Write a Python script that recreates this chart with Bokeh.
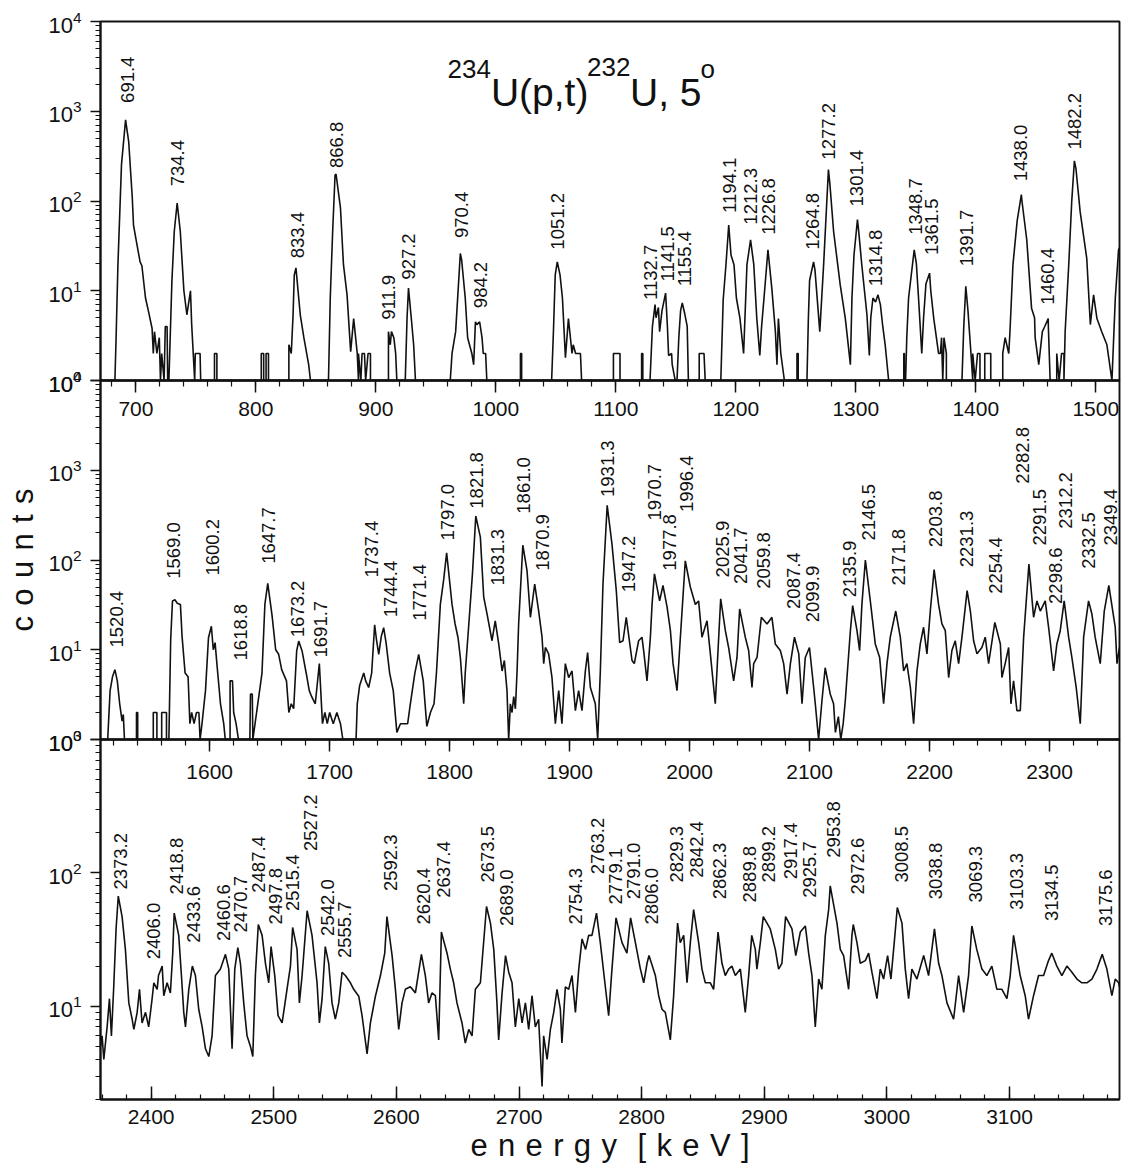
import numpy as np
from bokeh.plotting import figure
from bokeh.layouts import column
from bokeh.models import Range1d, FixedTicker, LogTickFormatter, Label, ColumnDataSource
from bokeh.core.properties import value
from bokeh.embed import file_html
from bokeh.resources import INLINE

FONT = "Liberation Sans"
INK = "#111111"

# ---------------------------------------------------------------------------
# Triton spectrum, read as (energy [keV], counts); empty channels sit at 1
# ---------------------------------------------------------------------------
p1_points = [
    (670.5, 1), (682.5, 1), (683.5, 3), (685, 19), (688, 256), (691.4, 800), (694, 460), (697, 108),
    (698, 54), (701, 32), (703.5, 21), (705, 19), (708, 8.3), (710.5, 5.9), (713.5, 3.8), (714.5, 2),
    (715.5, 3.5), (717.5, 2), (719.5, 3), (720.5, 1), (721.5, 2), (723.5, 1), (724.5, 4), (726, 4),
    (726.5, 1), (727.5, 1), (730, 12.7), (732, 46), (734.4, 95), (737, 46), (740, 10), (742.5, 5.4),
    (745.5, 10), (746.5, 4.2), (749, 1), (749.5, 2), (753.5, 2), (754, 1), (765.5, 1), (765.5, 2),
    (767.5, 2), (767.5, 1), (804.5, 1), (804.5, 2), (806.5, 2), (806.5, 1), (808.5, 1), (808.5, 2),
    (810.5, 2), (810.5, 1), (827.5, 1), (827.5, 2.5), (829.5, 2), (831, 5.4), (832, 15), (833.4, 18),
    (837, 5.4), (840, 3), (844, 1.5), (845.5, 1), (860.5, 1), (862, 8.3), (864, 46), (866, 195),
    (866.8, 200), (870.5, 84), (873, 19.5), (876, 9), (879, 2.1), (881.5, 4.9), (884.5, 2), (885.5, 1),
    (885.5, 2), (887.5, 1), (888.5, 2), (890.5, 2), (891.5, 1), (893.5, 2), (895.5, 2), (895.5, 1),
    (910.5, 1), (910.5, 3.5), (912, 2.5), (913, 3.5), (915, 3), (916.5, 2), (917.5, 1), (924.5, 1),
    (926, 5), (927.2, 10.7), (929.5, 5), (931.5, 2.5), (933, 1), (962, 1), (963.5, 2), (966.5, 3.5),
    (970.4, 26), (971.5, 22), (974.5, 8.3), (976.5, 3), (980, 2), (981.5, 1.5), (983, 4.5), (984.2, 4.2),
    (986.5, 4.5), (988.5, 3), (989.5, 2), (991.5, 2), (992.5, 1), (1020.5, 1), (1020.5, 2), (1021.5, 2),
    (1021.5, 1), (1046.5, 1), (1048, 3.5), (1049.5, 15), (1051.2, 21), (1053.5, 15), (1055.5, 8.3),
    (1058, 1.8), (1060.5, 4.9), (1063.5, 2), (1064.5, 2.5), (1066.5, 2), (1068.5, 2), (1070.5, 2),
    (1071.5, 1), (1098, 1), (1098, 2), (1103.5, 2), (1103.5, 1), (1121.5, 1), (1121.5, 2), (1122.5, 2),
    (1122.5, 1), (1128.5, 1), (1130.5, 4), (1132.7, 7), (1133.5, 5), (1135.5, 6.5), (1136.5, 3.5),
    (1138.5, 6), (1141.5, 9.4), (1143, 4), (1144, 1.9), (1146.5, 2), (1147, 1.5), (1149.5, 1), (1151, 1),
    (1152.5, 3), (1154, 6), (1155.4, 7.3), (1157.5, 5.5), (1159.5, 4), (1160.5, 1), (1169.5, 1),
    (1169.5, 2), (1173.5, 2), (1174.5, 1), (1187.5, 1), (1189.5, 8), (1191.8, 19.5), (1194.1, 54),
    (1196, 25), (1198.5, 19.5), (1200.5, 8.3), (1203.5, 4.9), (1206.5, 2), (1209.3, 19.5), (1212.3, 37),
    (1215, 19.5), (1217.5, 4.9), (1220, 1.9), (1221.5, 4), (1223.5, 8.3), (1226.8, 28.6), (1230, 10.7),
    (1233, 3.5), (1234.3, 1.5), (1235.5, 4.9), (1237.5, 2), (1240.5, 1), (1251, 1), (1251, 2), (1252, 2),
    (1252, 1), (1259.3, 1), (1260.5, 5), (1261.5, 13), (1264.8, 21), (1266, 17), (1270, 3.5),
    (1273.2, 19.5), (1277.2, 224), (1278.5, 150), (1281.5, 46), (1287, 11.7), (1291.3, 4.9),
    (1295.5, 1.5), (1296.8, 8.3), (1298.5, 25), (1301.4, 62), (1302.5, 45), (1305, 19.5), (1309.3, 5.4),
    (1311.3, 1.9), (1312.5, 5), (1314.3, 8.3), (1316.5, 7.5), (1318.5, 9), (1320.5, 7), (1322.5, 4),
    (1324.5, 2.5), (1327.4, 1), (1340, 1), (1340, 2), (1340.5, 2), (1340.5, 1), (1341.5, 1), (1342.5, 3),
    (1344, 8.3), (1348.7, 28.6), (1350.5, 20), (1352.3, 8.3), (1355, 2), (1356.5, 5), (1358.5, 12),
    (1361.5, 15.7), (1362.5, 10), (1365, 4.9), (1369, 2), (1370.5, 2), (1371.5, 3), (1372.5, 1),
    (1373.5, 3), (1375.5, 2), (1375.5, 1), (1388.5, 1), (1390, 4), (1391.7, 11.2), (1393.5, 6),
    (1396, 2), (1397.5, 1), (1397.5, 2), (1399.5, 1), (1401.5, 2), (1403.5, 2), (1403.5, 1), (1407.5, 1),
    (1407.5, 2), (1412.5, 2), (1412.5, 1), (1422.5, 1), (1422.5, 2), (1424.5, 3), (1427.5, 2),
    (1428.5, 3.5), (1431, 19.5), (1434.5, 60), (1438.0, 118), (1438.5, 100), (1442.5, 37), (1446.5, 6.4),
    (1449, 5), (1449.5, 3), (1452.5, 1.5), (1455.5, 3.5), (1457.5, 4), (1460.4, 4.9), (1460.5, 4),
    (1462, 1), (1467.5, 1), (1467.5, 2), (1469.5, 1), (1471.5, 2), (1473.5, 2), (1473.5, 1), (1474.5, 3.5),
    (1477.5, 19.5), (1480, 100), (1482.2, 280), (1483.5, 230), (1487, 76), (1492.5, 23), (1495.5, 4.2),
    (1498.2, 9), (1501, 4.9), (1505, 3.5), (1509.3, 2.5), (1513.5, 1), (1516.3, 8.3), (1519, 28.6),
    (1519.8, 30),
]

p2_points = [
    (1509, 1), (1515, 1), (1517, 3.5), (1519, 5), (1521, 6), (1523, 4.5), (1525, 2.5), (1527, 1.6),
    (1528, 1.9), (1529, 1), (1539, 1), (1539, 2), (1540, 2), (1540, 1), (1553, 1), (1553, 2), (1556, 2),
    (1556, 1), (1560, 1), (1560, 2), (1564, 2), (1564, 1), (1566, 1), (1567.5, 13), (1569, 35),
    (1571, 36), (1573, 33), (1575.6, 32), (1577, 14), (1579.5, 5.5), (1582, 5), (1583.5, 1.5), (1585, 2),
    (1587, 1.5), (1589, 2), (1591, 2), (1592, 1), (1593.6, 1.5), (1596.5, 3.5), (1599, 13.6),
    (1601.4, 18.3), (1603, 10), (1604.5, 12), (1606, 7), (1609, 2.5), (1611.7, 1.5), (1613, 1),
    (1617, 1), (1617, 4.5), (1619, 4.5), (1620, 2), (1622, 1.5), (1624, 1), (1633.5, 1), (1634, 3.2),
    (1635.5, 3.2), (1636, 1), (1643.6, 5.5), (1646, 32), (1648.4, 55), (1652, 24), (1655, 10),
    (1657.5, 8.9), (1660, 6), (1664, 4.5), (1666, 2), (1668, 2.5), (1670, 2.2), (1672.5, 9.7),
    (1674.2, 12.5), (1677, 9.7), (1681, 5), (1683, 3.5), (1685, 3), (1688, 2.5), (1691.4, 7),
    (1694, 1.5), (1696, 2), (1698, 1.5), (1700, 2), (1703, 1.5), (1706, 2), (1709, 1.5), (1711, 1),
    (1722, 1), (1723, 2.5), (1725, 4), (1728.4, 5.5), (1730, 4.5), (1732.5, 3.8), (1735, 5.5),
    (1737.5, 19), (1739, 13), (1740.9, 8.9), (1743, 14), (1745, 17.6), (1747, 12), (1750, 5.5),
    (1753, 3.5), (1756, 1.2), (1759, 1.5), (1762, 1.5), (1765, 1.5), (1767.25, 2.5), (1771, 5.5),
    (1774.2, 8.9), (1778, 4.5), (1781, 1.4), (1784, 2), (1787, 2.5), (1789, 5.5), (1792.25, 32),
    (1795, 60), (1797.5, 120), (1802, 32), (1804.5, 19.5), (1807, 13.6), (1809, 8), (1811.7, 2.5),
    (1813, 5.5), (1816, 19.5), (1819, 70), (1821.8, 308), (1825.6, 180), (1828.4, 38.5), (1831.2, 25),
    (1835.3, 12.6), (1838, 21), (1840.9, 11.6), (1843.7, 5.8), (1845.6, 7.6), (1847.8, 3.5),
    (1849.2, 1), (1850.6, 2.5), (1852, 2), (1853.4, 3), (1854.8, 2.2), (1856.2, 5.8), (1857.5, 19.4),
    (1861.0, 146), (1864.5, 76), (1867.3, 23), (1870.9, 54), (1874.2, 27), (1877, 13.8), (1878.4, 7),
    (1879.8, 10.6), (1882.5, 9), (1885.3, 4.9), (1888.1, 1.5), (1890.9, 3.5), (1893.6, 1.5),
    (1896.4, 7), (1899.2, 4.9), (1902, 5.8), (1904.8, 2.1), (1907.5, 3.5), (1910.3, 2.1), (1913.1, 5.8),
    (1915, 9.3), (1917.3, 3.8), (1921.4, 2.5), (1923.4, 1), (1925.6, 5.8), (1927.8, 54), (1931.3, 406),
    (1935.3, 150), (1938.9, 45.6), (1941.7, 12), (1944.5, 12.6), (1947.2, 23), (1952, 7.6),
    (1953.9, 7), (1957.5, 12.6), (1960.3, 13.8), (1961.7, 9.8), (1964.5, 4.5), (1967.3, 13.8),
    (1968.7, 32), (1970.7, 70), (1975, 35), (1977.8, 52), (1981.2, 30), (1984, 16.3), (1986.2, 7),
    (1989.5, 3.5), (1992.3, 13.8), (1996.4, 98), (2000.6, 50), (2004.8, 32), (2007.5, 35),
    (2010.3, 13.8), (2014.5, 21), (2017.3, 9), (2021.4, 2.5), (2025.9, 37), (2029.8, 16.3),
    (2032.5, 10.6), (2036.7, 4.5), (2039.5, 8.2), (2041.7, 28.5), (2046.4, 13.8), (2049.2, 9.8),
    (2052, 3.8), (2053.4, 7), (2056.2, 8.2), (2059.8, 23), (2064.5, 19.4), (2068.6, 23), (2071.4, 11.6),
    (2075.6, 9.8), (2078.4, 7), (2081.2, 3.2), (2084, 7), (2087.4, 13.8), (2091, 9), (2093.7, 2.5),
    (2096.4, 8.2), (2099.9, 10.6), (2103.4, 3.8), (2104.75, 2.5), (2107.5, 1), (2110.3, 2.7),
    (2113, 6.3), (2117.25, 3.2), (2120, 2.5), (2121.5, 1.2), (2124, 1.8), (2126, 1), (2128, 1.5),
    (2129.75, 2.7), (2134, 16.3), (2135.9, 31), (2139.5, 16.3), (2141.7, 9.8), (2143.6, 32),
    (2146.5, 100), (2150.6, 35), (2154.75, 11.6), (2158.4, 8.2), (2161.7, 2.5), (2164.5, 7),
    (2167.25, 13.8), (2171.8, 27), (2175.6, 13.8), (2178.4, 5.8), (2181.1, 7), (2184, 3.8),
    (2186.7, 1.5), (2189.5, 5.8), (2192.25, 11.6), (2195, 17.8), (2197.8, 9), (2200.6, 27),
    (2203.8, 78), (2207.5, 32), (2210.3, 19.4), (2213.1, 16.3), (2215.9, 4.9), (2218.6, 9.8),
    (2221.4, 12.6), (2224.2, 7), (2227, 13.8), (2231.3, 45.6), (2234, 27), (2236.7, 12.6), (2239.5, 9),
    (2243.6, 10.6), (2246.4, 13.8), (2249.2, 7), (2254.4, 20.2), (2259, 11.6), (2260.3, 4.9),
    (2263, 7), (2265.9, 10.6), (2267.8, 2.5), (2270, 4.5), (2272.8, 2.1), (2275.6, 2.1),
    (2278.4, 13.8), (2282.8, 90), (2286.7, 23), (2289.5, 35), (2292.3, 27), (2296.4, 35),
    (2299.2, 17.8), (2303.4, 5.8), (2306.1, 11.6), (2308.9, 16.3), (2312.2, 35), (2315.9, 13.8),
    (2318.6, 8.2), (2322.2, 3.8), (2325.6, 1.5), (2328.4, 13.8), (2332.5, 35), (2335.3, 25),
    (2338, 13.8), (2342.25, 7), (2345.6, 27), (2349.4, 52), (2354.75, 17.8), (2356.2, 7),
    (2358.3, 10.6),
]

p3_points = [
    (2358.7, 5), (2360, 6), (2361.4, 4), (2364.1, 7), (2366, 11.4), (2367.6, 6), (2369.5, 14),
    (2371.4, 38), (2373.2, 67), (2376.3, 47), (2379, 26.7), (2381.8, 10.6), (2384.5, 8), (2385.9, 6.7),
    (2388.6, 9), (2390.5, 13.4), (2392.6, 7.5), (2395.4, 9), (2398, 7), (2400.8, 11.4), (2402.2, 15),
    (2404.9, 13.4), (2406.0, 17), (2409, 20), (2410.3, 12), (2413, 15), (2415.7, 12.6), (2417.6, 25),
    (2418.8, 50), (2422.5, 34), (2424.7, 17), (2426.6, 9), (2428, 7), (2430.7, 13.4), (2433.6, 20),
    (2436.1, 17), (2438.8, 9.5), (2441.6, 7), (2444.3, 4.8), (2447, 4.2), (2449.7, 6), (2452.4, 17),
    (2456.5, 19), (2460.6, 24.5), (2463.3, 19), (2466, 4.8), (2468.2, 19), (2470.7, 27.5),
    (2472.8, 21), (2475.5, 10.6), (2478.2, 6), (2481, 5), (2482.9, 4.2), (2485, 17), (2487.4, 41),
    (2490.5, 34), (2493.2, 21), (2495.9, 15), (2497.8, 28), (2500.8, 17), (2503.5, 8.5),
    (2506.8, 7.5), (2510.8, 13.4), (2513.6, 20), (2515.4, 39), (2519, 26.7), (2520.9, 10.6),
    (2523.1, 17), (2527.2, 52), (2531.2, 34), (2535.3, 15), (2537.2, 7.5), (2539.4, 11.4),
    (2542.0, 28), (2544.8, 21), (2547.5, 10.6), (2550.2, 8), (2553, 10.6), (2555.7, 18),
    (2558.4, 17), (2562.5, 15), (2565.2, 13.4), (2569.3, 11.9), (2572, 8.5), (2576.1, 4.4),
    (2578.8, 7.5), (2582.9, 11.9), (2587, 17), (2590.5, 25), (2592.3, 47), (2596.5, 24),
    (2599.2, 13.4), (2601.9, 6.7), (2604.6, 10.6), (2607.3, 13.4), (2611.4, 14), (2615.5, 12.6),
    (2620.4, 24.5), (2623.6, 17), (2626.3, 10.6), (2629, 12.6), (2631.8, 12), (2634.5, 5.6),
    (2636.7, 36), (2637.4, 34), (2641.3, 25), (2644, 19), (2646.7, 15), (2649.4, 10.6), (2653.5, 7.5),
    (2656.2, 5.3), (2659, 6.7), (2661.7, 6), (2664.4, 13.4), (2668.5, 15), (2673.5, 56),
    (2676.7, 42), (2679.4, 26.7), (2682, 10.6), (2683.4, 5.6), (2686.2, 12.6), (2689.0, 24),
    (2691.6, 18), (2694.3, 15), (2697, 7), (2699.8, 11.4), (2702.5, 7.5), (2705.2, 10.6),
    (2707.9, 6.7), (2710.6, 12), (2713.3, 7), (2716, 8), (2718.8, 2.5), (2720.1, 6), (2722.9, 4),
    (2725.6, 6.7), (2728.3, 9), (2731, 13.4), (2733.7, 9.5), (2735, 5.3), (2737.8, 14), (2740.5, 13.4),
    (2743.2, 17), (2746, 9), (2748.7, 19), (2751.4, 32), (2754.3, 26.7), (2756.8, 34), (2759.5, 34),
    (2763.2, 50), (2766.3, 30), (2770.4, 14), (2773.1, 8.5), (2775.8, 19), (2779.1, 46), (2784, 30),
    (2788, 25), (2791.0, 46), (2794.9, 30), (2799, 19), (2801.7, 15), (2804.4, 21), (2806.0, 24),
    (2811.2, 17), (2813.9, 12), (2816.6, 9.5), (2819.3, 9), (2823.4, 5.6), (2826.1, 12), (2829.3, 42),
    (2831.5, 30), (2834.3, 34), (2837, 15), (2839.7, 30), (2842.4, 53), (2846.5, 30), (2849.2, 19),
    (2851.9, 15), (2856, 15), (2858.7, 13.4), (2862.3, 36), (2865.5, 21), (2868.2, 17), (2870.9, 19),
    (2873.6, 20), (2876.4, 17), (2880.5, 19), (2884.5, 9), (2887.3, 17), (2889.8, 34), (2892.7, 26.7),
    (2894, 19), (2896.8, 30), (2899.2, 47), (2904.9, 38), (2909, 26.7), (2911.7, 19), (2914.4, 21),
    (2917.4, 47), (2922.6, 38), (2925.7, 24), (2929.4, 36), (2933.5, 40), (2936.2, 25), (2938.9, 17),
    (2941.6, 7), (2944.4, 16), (2947, 13.4), (2949.8, 34), (2952.5, 53), (2953.8, 80), (2959.3, 42),
    (2962, 26.7), (2964.7, 24), (2968.8, 13.4), (2971.5, 34), (2972.6, 41), (2975.6, 30),
    (2978.3, 21), (2982.4, 22), (2985.1, 25), (2987.8, 18), (2991.9, 11.4), (2994.6, 19),
    (2997.3, 16), (3000.6, 24), (3003.3, 16), (3006, 30), (3008.5, 55), (3012.3, 42), (3015, 19),
    (3017.7, 11.4), (3020.4, 19), (3024.5, 16), (3030, 24), (3034, 17), (3038.8, 38), (3042.2, 21),
    (3044.9, 17), (3049, 10.6), (3054.4, 8), (3058.5, 17), (3062.6, 9), (3066.6, 17), (3069.3, 40),
    (3073.3, 26.7), (3077.5, 19), (3081.5, 17), (3085.6, 20), (3089.7, 13.4), (3093.8, 13.4),
    (3097.9, 11.4), (3100.6, 17), (3103.3, 34), (3108.7, 17), (3112.8, 12), (3115.5, 8), (3119.6, 12),
    (3123.7, 17), (3127.8, 17), (3131.8, 22), (3134.5, 25), (3138.6, 20), (3142.7, 17), (3146.8, 20),
    (3150.9, 18), (3155, 16), (3159, 15), (3163.1, 15), (3167.2, 16), (3171.3, 19), (3175.6, 24.5),
    (3179.4, 19), (3183.5, 12), (3186.2, 16), (3189, 15), (3189.7, 14),
]

# ---------------------------------------------------------------------------
# Peak energies; each label is set upright at (keV, counts) above its peak
# ---------------------------------------------------------------------------
p1_labels = [
    ("691.4", 693.2, 1239), ("734.4", 734.3, 146), ("833.4", 834.3, 23), ("866.8", 866.8, 233),
    ("911.9", 910.7, 4.75), ("927.2", 927.4, 13.3), ("970.4", 971.3, 38.7), ("984.2", 987.6, 6.4),
    ("1051.2", 1051.5, 28.7), ("1132.7", 1129.3, 7.9), ("1141.5", 1143.2, 12.7),
    ("1155.4", 1157.1, 11.2), ("1194.1", 1194.9, 73.5), ("1212.3", 1212.1, 54.5),
    ("1226.8", 1227.4, 42), ("1264.8", 1264.0, 28.7), ("1277.2", 1277.4, 289), ("1301.4", 1301.0, 87),
    ("1314.8", 1316.3, 11.2), ("1348.7", 1349.6, 42), ("1361.5", 1362.9, 25), ("1391.7", 1392.6, 18.7),
    ("1438.0", 1437.1, 166), ("1460.4", 1460.1, 7.0), ("1482.2", 1482.1, 374),
]
p2_labels = [
    ("1520.4", 1522.0, 10.6), ("1569.0", 1570.0, 61.7), ("1600.2", 1602.0, 67), ("1618.8", 1625.6, 7.6),
    ("1647.7", 1649.2, 90.7), ("1673.2", 1673.6, 13.8), ("1691.7", 1692.3, 8.2), ("1737.4", 1734.8, 64),
    ("1744.4", 1750.6, 23), ("1771.4", 1774.8, 21), ("1797.0", 1797.8, 165), ("1821.8", 1822.0, 373),
    ("1831.3", 1840.0, 52), ("1861.0", 1861.7, 328), ("1870.9", 1877.0, 76), ("1931.3", 1931.7, 504),
    ("1947.2", 1949.2, 43.8), ("1970.7", 1970.6, 276), ("1977.8", 1983.4, 76), ("1996.4", 1997.8, 342),
    ("2025.9", 2027.0, 64), ("2041.7", 2042.8, 54), ("2059.8", 2061.2, 47.7), ("2087.4", 2086.7, 28.5),
    ("2099.9", 2102.5, 20.2), ("2135.9", 2133.4, 38.5), ("2146.5", 2149.2, 165), ("2171.8", 2174.2, 52),
    ("2203.8", 2204.8, 139), ("2231.3", 2231.1, 83), ("2254.4", 2254.8, 42), ("2282.8", 2277.8, 709),
    ("2291.5", 2291.7, 145), ("2298.6", 2304.8, 32.4), ("2312.2", 2313.1, 223), ("2332.5", 2332.5, 80),
    ("2349.4", 2350.6, 145),
]
p3_labels = [
    ("2373.2", 2375.0, 75), ("2406.0", 2402.2, 22.5), ("2418.8", 2420.4, 69), ("2433.6", 2434.8, 30),
    ("2460.6", 2459.2, 30.9), ("2470.7", 2472.8, 35.7), ("2487.4", 2487.8, 71), ("2497.8", 2501.3, 41),
    ("2515.4", 2515.5, 51.7), ("2527.2", 2529.9, 146), ("2542.0", 2544.0, 33.7), ("2555.7", 2557.9, 23),
    ("2592.3", 2595.1, 73), ("2620.4", 2622.3, 41), ("2637.4", 2638.6, 65), ("2673.5", 2674.7, 84.6),
    ("2689.0", 2690.2, 40), ("2754.3", 2746.0, 41), ("2763.2", 2764.2, 97.5), ("2779.1", 2778.6, 58),
    ("2791.0", 2793.5, 63.4), ("2806.0", 2808.4, 41), ("2829.3", 2828.8, 84.6), ("2842.4", 2845.1, 92),
    ("2862.3", 2863.6, 63.4), ("2889.8", 2888.1, 60), ("2899.2", 2903.5, 84.6), ("2917.4", 2921.2, 89.5),
    ("2925.7", 2936.5, 65), ("2953.8", 2956.6, 130), ("2972.6", 2976.1, 69), ("3008.5", 3012.3, 84.6),
    ("3038.8", 3039.5, 63.4), ("3069.3", 3072.0, 60), ("3103.3", 3105.5, 53), ("3134.5", 3134.6, 43.5),
    ("3175.6", 3178.0, 40),
]

# axis ranges and tick labels
p1_xrange, p2_xrange, p3_xrange = (670.5, 1519.8), (1509.0, 2358.3), (2358.7, 3189.7)
p1_xticks = [700, 800, 900, 1000, 1100, 1200, 1300, 1400, 1500]
p2_xticks = [1600, 1700, 1800, 1900, 2000, 2100, 2200, 2300]
p3_xticks = [2400, 2500, 2600, 2700, 2800, 2900, 3000, 3100]
p12_yrange, p3_yrange = (1, 1e4), (2, 1e3)
p12_yticks = [1, 10, 100, 1000, 10000]
p3_yticks = [10, 100, 1000]


def log_minor(lo, hi):
    out = []
    for d in range(-1, 6):
        for k in range(2, 10):
            v = k * 10 ** d
            if lo <= v <= hi:
                out.append(v)
    return out


def panel(points, labels, xr, yr, yticks, xticks, height, top, bottom, shift,
          inward=False, standoff=10, xlabel=None, ylabel=None):
    p = figure(width=1121, height=height, x_range=Range1d(*xr), y_range=Range1d(*yr),
               y_axis_type="log", output_backend="svg", toolbar_location=None,
               min_border_left=100, min_border_right=2, min_border_top=top,
               min_border_bottom=bottom)
    if p.title is not None:
        p.title.visible = False
    p.margin = (shift, 0, 0, 0)
    p.background_fill_alpha = 0
    p.border_fill_alpha = 0
    p.grid.visible = False
    p.outline_line_color = INK
    p.outline_line_width = 1.9

    e = [q[0] for q in points]
    c = [q[1] for q in points]
    p.line(e, c, line_color=INK, line_width=1.6)

    src = ColumnDataSource(dict(x=[l[1] for l in labels], y=[l[2] for l in labels],
                                t=[l[0] for l in labels]))
    p.text(x="x", y="y", text="t", source=src, angle=np.pi / 2, text_align="left",
           text_baseline="middle", text_font=value(FONT), text_font_size="18.5px",
           text_color=INK)

    ya = p.yaxis[0]
    ya.ticker = FixedTicker(ticks=yticks, minor_ticks=log_minor(*yr))
    ya.formatter = LogTickFormatter()
    ya.major_tick_out, ya.major_tick_in = 10, 0
    ya.minor_tick_out, ya.minor_tick_in = 5, 0
    ya.major_label_standoff = 9
    ya.major_label_text_font = FONT
    ya.major_label_text_font_size = "22px"
    ya.major_label_text_color = INK
    ya.axis_line_width = 1.9
    ya.axis_line_color = INK
    ya.major_tick_line_width = 1.5
    ya.minor_tick_line_width = 1.2
    ya.major_tick_line_color = INK
    ya.minor_tick_line_color = INK
    if ylabel:
        ya.axis_label = ylabel
        ya.axis_label_text_font = FONT
        ya.axis_label_text_font_size = "31px"
        ya.axis_label_text_font_style = "normal"
        ya.axis_label_text_color = INK
        ya.axis_label_standoff = 5

    xa = p.xaxis[0]
    lo = int(np.ceil(xr[0] / 20.0)) * 20
    xa.ticker = FixedTicker(ticks=xticks, minor_ticks=list(range(lo, int(xr[1]) + 1, 20)))
    if inward:
        xa.major_tick_in, xa.major_tick_out = 13, 0
        xa.minor_tick_in, xa.minor_tick_out = 5, 0
    else:
        xa.major_tick_in, xa.major_tick_out = 0, 12
        xa.minor_tick_in, xa.minor_tick_out = 0, 6
    xa.major_label_standoff = standoff
    xa.major_label_text_font = FONT
    xa.major_label_text_font_size = "21px"
    xa.major_label_text_color = INK
    xa.axis_line_width = 1.9
    xa.axis_line_color = INK
    xa.major_tick_line_width = 1.5
    xa.minor_tick_line_width = 1.2
    xa.major_tick_line_color = INK
    xa.minor_tick_line_color = INK
    if xlabel:
        xa.axis_label = xlabel
        xa.axis_label_text_font = FONT
        xa.axis_label_text_font_size = "31px"
        xa.axis_label_text_font_style = "normal"
        xa.axis_label_text_color = INK
        xa.axis_label_standoff = 1
    return p


sp = "\u2004"
p1 = panel(p1_points, p1_labels, p1_xrange, p12_yrange, p12_yticks, p1_xticks,
           height=430, top=21, bottom=50, shift=0, standoff=9)
p2 = panel(p2_points, p2_labels, p2_xrange, p12_yrange, p12_yticks, p2_xticks,
           height=439, top=20, bottom=60, shift=-70, standoff=13,
           ylabel=sp.join("counts"))
p3 = panel(p3_points, p3_labels, p3_xrange, p3_yrange, p3_yticks, p3_xticks,
           height=451, top=20, bottom=71, shift=-80, inward=True, standoff=10,
           xlabel=sp.join("energy") + sp + sp + sp.join("[keV]"))

# reaction title, built from pieces so the mass numbers and the degree sign are raised
title_parts = [("234", 347, 312, "26px"), ("U(p,t)", 390.4, 288, "39px"),
               ("232", 486.5, 314, "26px"), ("U, 5", 529.5, 288, "39px"),
               ("o", 600, 312, "26px")]
for txt, sx, sy, fs in title_parts:
    p1.add_layout(Label(x=sx, y=sy, x_units="screen", y_units="screen", text=txt,
                        text_font=FONT, text_font_size=fs, text_color=INK,
                        text_align="left", text_baseline="alphabetic"))

layout = column(p1, p2, p3, spacing=0)
open("out.html", "w").write(file_html(layout, INLINE))
